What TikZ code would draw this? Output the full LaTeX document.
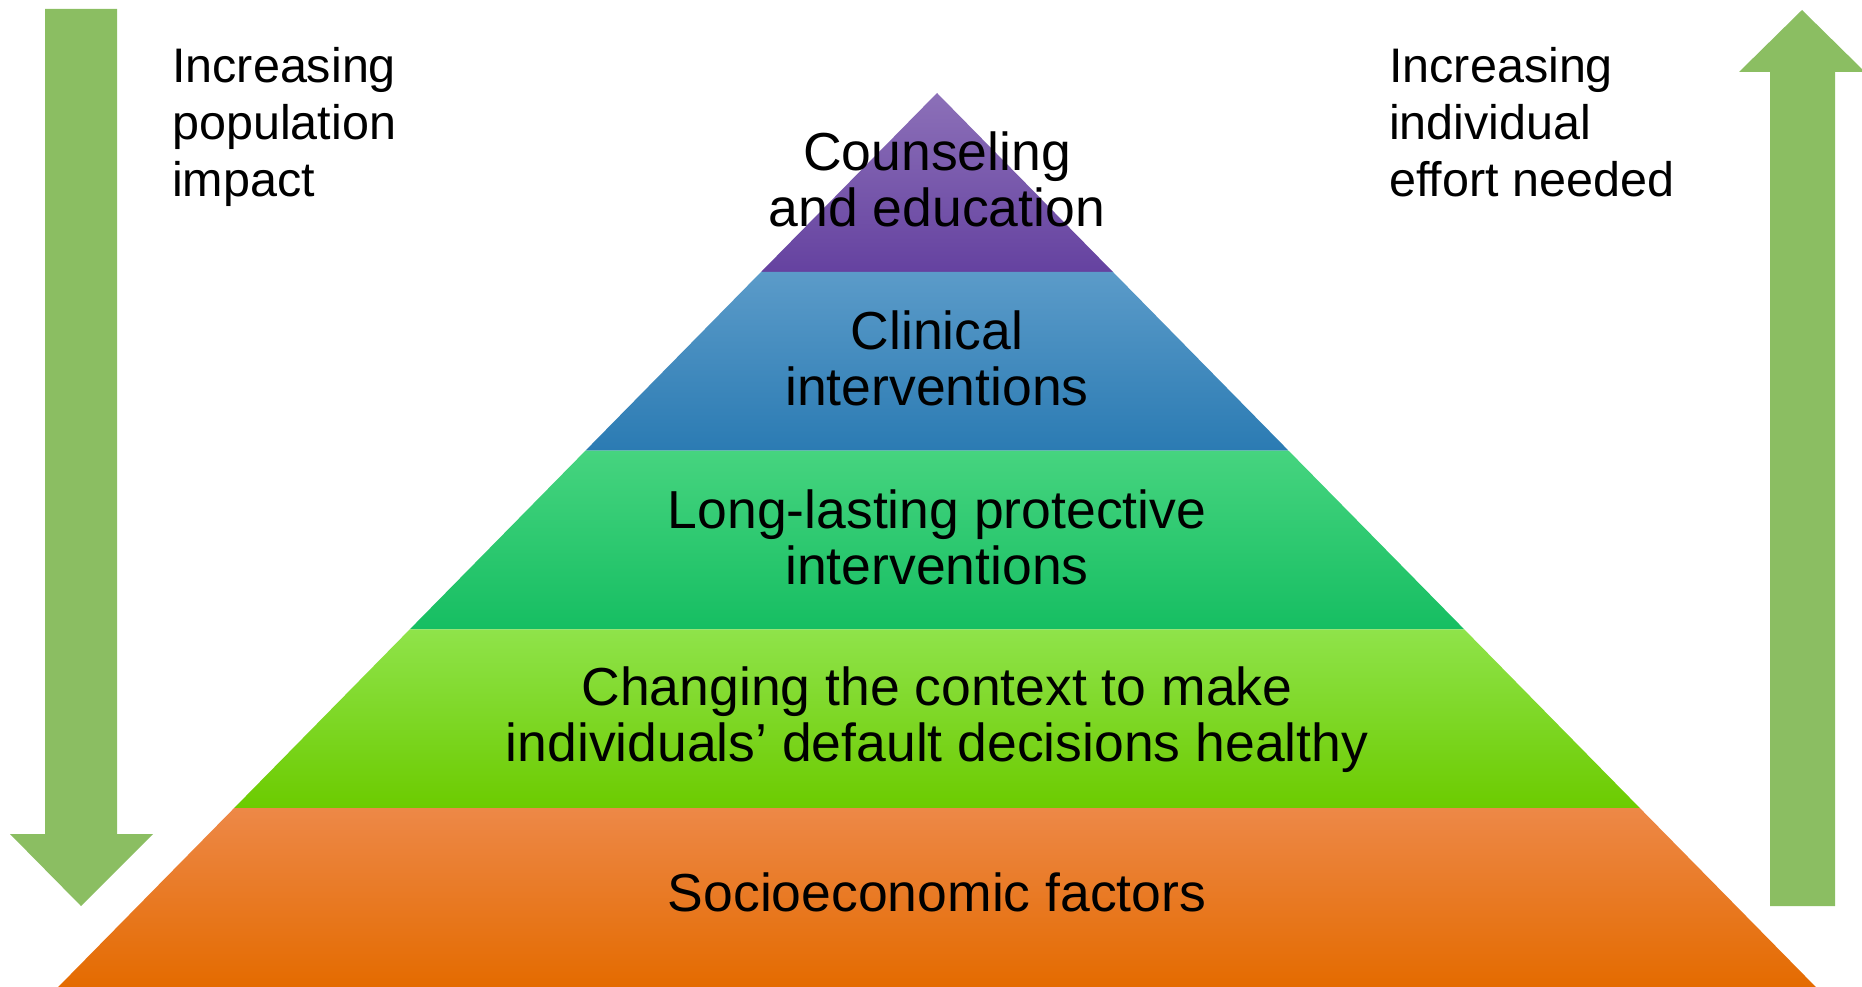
\documentclass[tikz,border=0pt]{standalone}
\usepackage{fontspec}
\setmainfont{Liberation Sans}
\definecolor{arrowgreen}{RGB}{139,190,98}
\definecolor{purpleT}{RGB}{140,112,184}
\definecolor{purpleB}{RGB}{101,66,160}
\definecolor{blueT}{RGB}{91,155,201}
\definecolor{blueB}{RGB}{43,123,179}
\definecolor{greenT}{RGB}{70,212,127}
\definecolor{greenB}{RGB}{22,190,98}
\definecolor{lgreenT}{RGB}{143,227,74}
\definecolor{lgreenM}{RGB}{122,223,14}
\definecolor{lgreenB}{RGB}{108,203,0}
\definecolor{orangeT}{RGB}{237,136,71}
\definecolor{orangeM}{RGB}{240,119,0}
\definecolor{orangeB}{RGB}{228,107,0}
\begin{document}
\begin{tikzpicture}[x=1pt,y=-1pt,
  tiertext/.style={align=center,inner sep=0pt,text=black,
    font=\fontsize{53.5}{56}\selectfont},
  sidetext/.style={align=left,inner sep=0pt,anchor=north west,text=black,
    font=\fontsize{48.5}{57}\selectfont},
  bigarrow/.style={fill=arrowgreen,draw=none}]
\useasboundingbox (0,0) rectangle (1862,987);
% pyramid corners
\coordinate (apex) at (937,93);
\coordinate (l1) at (761.2,271.8);  \coordinate (r1) at (1112.8,271.8);
\coordinate (l2) at (585.5,450.6);  \coordinate (r2) at (1288.5,450.6);
\coordinate (l3) at (409.7,629.4);  \coordinate (r3) at (1464.3,629.4);
\coordinate (l4) at (234.0,808.2);  \coordinate (r4) at (1640.0,808.2);
\coordinate (l5) at (58.2,987);     \coordinate (r5) at (1815.8,987);
% arrows
\fill[bigarrow] (45,9) -- (117,9) -- (117,834) -- (153,834) -- (81,906)
  -- (10,834) -- (45,834) -- cycle;
\fill[bigarrow] (1802,10) -- (1865,72) -- (1835,72) -- (1835,906)
  -- (1770,906) -- (1770,72) -- (1739,72) -- cycle;
% tiers
\shade[top color=purpleT,bottom color=purpleB] (apex) -- (r1) -- (l1) -- cycle;
\shade[top color=blueT,bottom color=blueB] (l1) -- (r1) -- (r2) -- (l2) -- cycle;
\shade[top color=greenT,bottom color=greenB] (l2) -- (r2) -- (r3) -- (l3) -- cycle;
\shade[top color=lgreenT,middle color=lgreenM,bottom color=lgreenB] (l3) -- (r3) -- (r4) -- (l4) -- cycle;
\shade[top color=orangeT,middle color=orangeM,bottom color=orangeB] (l4) -- (r4) -- (r5) -- (l5) -- cycle;
% tier texts
\node[tiertext] (t1) at (937,179.5) {Counseling\\and education};
\node[tiertext] (t2) at (937,358) {Clinical\\interventions};
\node[tiertext] (t3) at (937,537) {Long-lasting protective\\interventions};
\node[tiertext] (t4) at (937,720) {Changing the context to make\\individuals’ default decisions healthy};
\node[tiertext] (t5) at (937,892.5) {Socioeconomic factors};
% side texts
\node[sidetext] (lt) at (172,47) {Increasing\\population\\impact};
\node[sidetext] (rt) at (1389,47) {Increasing\\individual\\effort needed};
\end{tikzpicture}
\end{document}
